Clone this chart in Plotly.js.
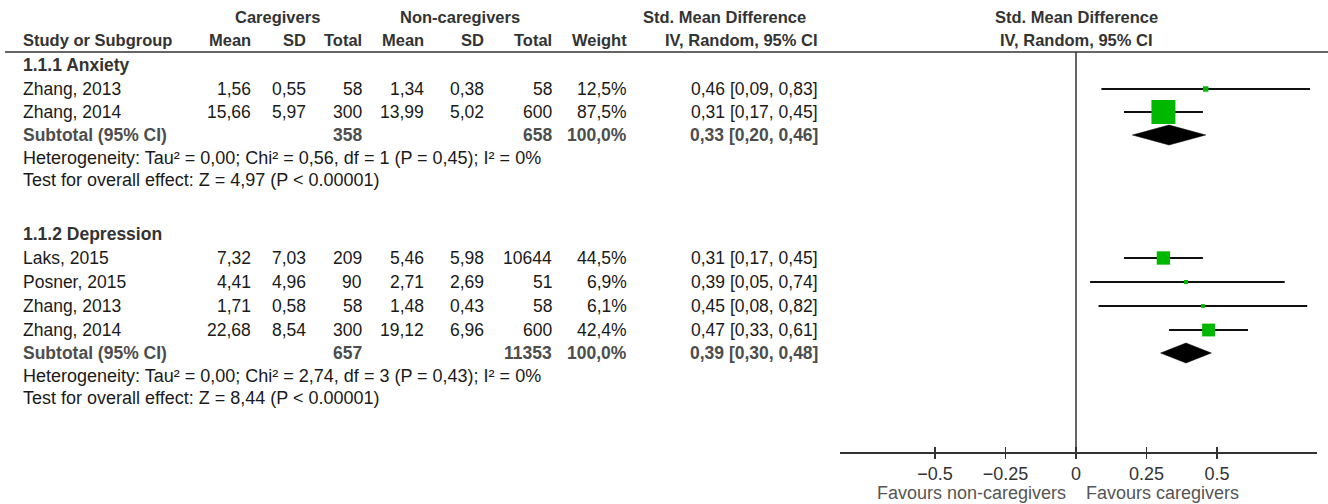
<!DOCTYPE html>
<html>
<head>
<meta charset="utf-8">
<script src="https://cdn.plot.ly/plotly-3.0.1.min.js"></script>
<style>html,body{margin:0;padding:0;background:#fff;}#chart{width:1328px;height:504px;}</style>
</head>
<body>
<div id="chart"></div>
<script>
// ---------------- DATA ----------------
const anxStudies = ["Zhang, 2013", "Zhang, 2014"];
const anxCgMean = [1.56, 15.66];
const anxCgSD = [0.55, 5.97];
const anxCgN = [58, 300];
const anxNcMean = [1.34, 13.99];
const anxNcSD = [0.38, 5.02];
const anxNcN = [58, 600];
const anxWeight = [12.5, 87.5];
const anxSMD = [0.46, 0.31];
const anxLo = [0.09, 0.17];
const anxHi = [0.83, 0.45];
const anxSub = [0.33, 0.20, 0.46];      // est, lo, hi
const anxSubN = [358, 658];
const anxHet = "Heterogeneity: Tau² = 0,00; Chi² = 0,56, df = 1 (P = 0,45); I² = 0%";
const anxTest = "Test for overall effect: Z = 4,97 (P < 0.00001)";

const depStudies = ["Laks, 2015", "Posner, 2015", "Zhang, 2013", "Zhang, 2014"];
const depCgMean = [7.32, 4.41, 1.71, 22.68];
const depCgSD = [7.03, 4.96, 0.58, 8.54];
const depCgN = [209, 90, 58, 300];
const depNcMean = [5.46, 2.71, 1.48, 19.12];
const depNcSD = [5.98, 2.69, 0.43, 6.96];
const depNcN = [10644, 51, 58, 600];
const depWeight = [44.5, 6.9, 6.1, 42.4];
const depSMD = [0.31, 0.39, 0.45, 0.47];
const depLo = [0.17, 0.05, 0.08, 0.33];
const depHi = [0.45, 0.74, 0.82, 0.61];
const depSub = [0.39, 0.30, 0.48];
const depSubN = [657, 11353];
const depHet = "Heterogeneity: Tau² = 0,00; Chi² = 2,74, df = 3 (P = 0,43); I² = 0%";
const depTest = "Test for overall effect: Z = 8,44 (P < 0.00001)";

const tickVals = [-0.5, -0.25, 0, 0.25, 0.5];
const tickText = ["\u22120.5", "\u22120.25", "0", "0.25", "0.5"];

// ---------------- LAYOUT HELPERS ----------------
const W = 1328, H = 504;
const FONT = "Liberation Sans, Arial, sans-serif";
const FS = 17.5;
const fmt = v => v.toFixed(2).replace('.', ',');
const fmtW = v => v.toFixed(1).replace('.', ',') + '%';
const ci = (e, l, h) => fmt(e) + ' [' + fmt(l) + ', ' + fmt(h) + ']';

const col = {label: 22, cgMean: 252, cgSD: 307, cgN: 363, ncMean: 425, ncSD: 485, ncN: 553, weight: 628, ci: 819};
const annotations = [];
function ann(text, xpx, ypx, anchor, opt) {
  opt = opt || {};
  annotations.push({
    text: text, xref: 'paper', x: xpx / W, yref: 'y', y: ypx,
    xanchor: anchor, yanchor: 'middle', showarrow: false, borderpad: 0,
    font: {family: FONT, size: opt.size || FS, color: opt.color || '#1a1a1a', weight: opt.bold ? 'bold' : 'normal'}
  });
}
const hdr = {bold: true, color: '#333333', size: 16.5};
ann('Caregivers', 277, 17, 'center', hdr);
ann('Non-caregivers', 460, 17, 'center', hdr);
ann('Std. Mean Difference', 724, 17, 'center', hdr);
ann('Std. Mean Difference', 1076, 17, 'center', hdr);
ann('Study or Subgroup', col.label, 40, 'left', hdr);
ann('Mean', col.cgMean, 40, 'right', hdr);
ann('SD', col.cgSD, 40, 'right', hdr);
ann('Total', col.cgN, 40, 'right', hdr);
ann('Mean', col.ncMean, 40, 'right', hdr);
ann('SD', col.ncSD, 40, 'right', hdr);
ann('Total', col.ncN, 40, 'right', hdr);
ann('Weight', col.weight, 40, 'right', hdr);
ann('IV, Random, 95% CI', col.ci, 40, 'right', hdr);
ann('IV, Random, 95% CI', 1076, 40, 'center', hdr);

const sections = [
  {title: '1.1.1 Anxiety', yTitle: 65, y0: 89, step: 23, ySub: 135, yHet: 158, yTest: 180,
   studies: anxStudies, cgMean: anxCgMean, cgSD: anxCgSD, cgN: anxCgN, ncMean: anxNcMean, ncSD: anxNcSD, ncN: anxNcN,
   weight: anxWeight, smd: anxSMD, lo: anxLo, hi: anxHi, sub: anxSub, subN: anxSubN, het: anxHet, test: anxTest},
  {title: '1.1.2 Depression', yTitle: 234, y0: 258, step: 24, ySub: 353, yHet: 376, yTest: 398,
   studies: depStudies, cgMean: depCgMean, cgSD: depCgSD, cgN: depCgN, ncMean: depNcMean, ncSD: depNcSD, ncN: depNcN,
   weight: depWeight, smd: depSMD, lo: depLo, hi: depHi, sub: depSub, subN: depSubN, het: depHet, test: depTest}
];

const traces = [];
const sub = {bold: true, color: '#4d4d4d'};
sections.forEach(s => {
  ann(s.title, col.label, s.yTitle, 'left', {bold: true, color: '#333333'});
  const ys = s.studies.map((_, i) => s.y0 + i * s.step);
  s.studies.forEach((name, i) => {
    const y = ys[i];
    ann(name, col.label, y, 'left');
    ann(fmt(s.cgMean[i]), col.cgMean, y, 'right');
    ann(fmt(s.cgSD[i]), col.cgSD, y, 'right');
    ann(String(s.cgN[i]), col.cgN, y, 'right');
    ann(fmt(s.ncMean[i]), col.ncMean, y, 'right');
    ann(fmt(s.ncSD[i]), col.ncSD, y, 'right');
    ann(String(s.ncN[i]), col.ncN, y, 'right');
    ann(fmtW(s.weight[i]), col.weight, y, 'right');
    ann(ci(s.smd[i], s.lo[i], s.hi[i]), col.ci, y, 'right');
  });
  ann('Subtotal (95% CI)', col.label, s.ySub, 'left', sub);
  ann(String(s.subN[0]), col.cgN, s.ySub, 'right', sub);
  ann(String(s.subN[1]), col.ncN, s.ySub, 'right', sub);
  ann('100,0%', col.weight, s.ySub, 'right', sub);
  ann(ci(s.sub[0], s.sub[1], s.sub[2]), col.ci, s.ySub, 'right', sub);
  ann(s.het, col.label, s.yHet, 'left', {size: 18});
  ann(s.test, col.label, s.yTest, 'left', {size: 18});

  traces.push({
    type: 'scatter', mode: 'markers', x: s.smd, y: ys, xaxis: 'x', yaxis: 'y',
    marker: {symbol: 'square', color: '#00b800', opacity: 1, size: s.weight.map(w => 2.3 + 0.248 * w), line: {width: 0}},
    error_x: {type: 'data', symmetric: false,
              array: s.hi.map((h, i) => h - s.smd[i]),
              arrayminus: s.lo.map((l, i) => s.smd[i] - l),
              color: '#111111', thickness: 2, width: 0},
    hoverinfo: 'skip', showlegend: false, cliponaxis: false
  });
  traces.push({
    type: 'scatter', mode: 'lines', fill: 'toself', fillcolor: '#000000',
    x: [s.sub[1], s.sub[0], s.sub[2], s.sub[0], s.sub[1]],
    y: [s.ySub, s.ySub - 10, s.ySub, s.ySub + 10, s.ySub],
    xaxis: 'x', yaxis: 'y', line: {color: '#000000', width: 0.5},
    hoverinfo: 'skip', showlegend: false
  });
});
// invisible trace for overlay axis with inside ticks
traces.push({type: 'scatter', mode: 'markers', x: [0], y: [-50], xaxis: 'x2', yaxis: 'y',
  marker: {opacity: 0}, hoverinfo: 'skip', showlegend: false});

ann('Favours non-caregivers', 1067, 493, 'right', {color: '#555555', size: 18});
ann('Favours caregivers', 1085, 493, 'left', {color: '#555555', size: 18});

const xPos = 1 - 452 / H;
const xLeft = 840, xRight = 1317, xZero = 1076, pxPerUnit = 282;
const layout = {
  width: W, height: H, margin: {l: 0, r: 0, t: 0, b: 0},
  paper_bgcolor: '#ffffff', plot_bgcolor: 'rgba(0,0,0,0)',
  showlegend: false,
  xaxis: {
    domain: [xLeft / W, xRight / W],
    range: [(xLeft - xZero) / pxPerUnit, (xRight - xZero) / pxPerUnit],
    anchor: 'free', position: xPos,
    showline: true, linecolor: '#333333', linewidth: 1.5,
    ticks: 'outside', ticklen: 5, tickwidth: 1.5, tickcolor: '#333333',
    tickvals: tickVals, ticktext: tickText,
    tickfont: {family: FONT, size: 18, color: '#333333'},
    showgrid: false, zeroline: false, fixedrange: true
  },
  xaxis2: {
    overlaying: 'x', matches: 'x', anchor: 'free', position: xPos,
    showline: false, ticks: 'inside', ticklen: 5, tickwidth: 1.5, tickcolor: '#333333',
    tickvals: tickVals, showticklabels: false, showgrid: false, zeroline: false
  },
  yaxis: {domain: [0, 1], range: [H, 0], visible: false, showgrid: false, zeroline: false, fixedrange: true},
  shapes: [
    {type: 'line', xref: 'paper', x0: 5 / W, x1: 1, yref: 'y', y0: 52, y1: 52, line: {color: '#333333', width: 1.5}},
    {type: 'line', xref: 'x', x0: 0, x1: 0, yref: 'y', y0: 52, y1: 452, line: {color: '#333333', width: 1.5}}
  ],
  annotations: annotations
};
Plotly.newPlot('chart', traces, layout, {staticPlot: true, displayModeBar: false});
</script>
</body>
</html>
